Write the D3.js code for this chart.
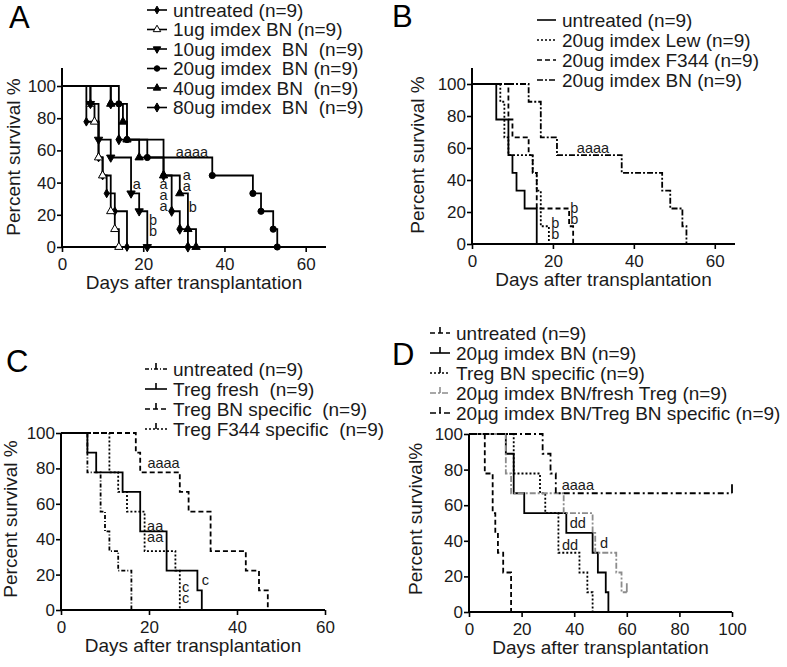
<!DOCTYPE html>
<html>
<head>
<meta charset="utf-8">
<script src="https://d3js.org/d3.v7.min.js"></script>
<style>
body { margin: 0; background: #fff; }
svg { font-family: "Liberation Sans", Arial, sans-serif; }
</style>
</head>
<body>
<div id="chart"></div>
<script>
// Ticks
var ticksY = [0, 20, 40, 60, 80, 100];
var ticksX60 = [0, 20, 40, 60];
var ticksX100 = [0, 20, 40, 60, 80, 100];

// Panel A: [day, % survival after the death]
var aUntreated = [[6, 77.8], [9, 55.6], [10, 44.4], [11, 33.3], [13, 22.2], [16, 0]];
var a1ug = [[7, 88.9], [8, 77.8], [9, 55.6], [10, 44.4], [12, 22.2], [13, 11.1], [14, 0]];
var a10ug = [[7, 88.9], [9, 66.7], [12, 55.6], [17, 33.3], [19, 22.2], [21, 0]];
var a20ug = [[14, 88.9], [16, 66.7], [21, 55.6], [37, 44.4], [47, 33.3], [49, 22.2], [52, 11.1], [53, 0]];
var a40ug = [[12, 88.9], [15, 77.8], [16, 66.7], [19, 55.6], [25, 44.4], [29, 33.3], [31, 11.1], [33, 0]];
var a80ug = [[12, 88.9], [14, 66.7], [25, 44.4], [27, 22.2], [29, 11.1], [31, 0]];
var aNames = ["untreated (n=9)", "1ug imdex BN (n=9)", "10ug imdex  BN  (n=9)",
  "20ug imdex  BN (n=9)", "40ug imdex BN  (n=9)", "80ug imdex  BN  (n=9)"];
// significance letters: [lines, day, % of the top line]
var aLabels = [[["aaaa"], 32, 59], [["a"], 18.4, 39], [["a", "a", "a"], 25, 39],
  [["a", "a"], 30.7, 44.6], [["b"], 32.2, 24.7], [["b", "b"], 22.4, 16.6]];

// Panel B
var bUntreated = [[6, 77.8], [9, 55.6], [10, 44.4], [11, 33.3], [13, 22.2], [16, 0]];
var bLew = [[7, 88.9], [8, 66.7], [9, 55.6], [15, 44.4], [16, 33.3], [17, 11.1], [19, 0]];
var bF344 = [[9, 77.8], [10, 66.7], [14, 55.6], [15, 44.4], [16, 22.2], [24, 11.1], [25, 0]];
var bBN = [[14, 88.9], [17, 66.7], [21, 55.6], [37, 44.4], [47, 33.3], [49, 22.2], [52, 11.1], [53, 0]];
var bNames = ["untreated (n=9)", "20ug imdex Lew (n=9)", "20ug imdex F344 (n=9)", "20ug imdex BN (n=9)"];
var bLabels = [[["aaaa"], 29.9, 60], [["b", "b"], 25.3, 22.5], [["b", "b"], 20.6, 13]];

// Panel C
var cUntreated = [[6, 77.8], [9, 55.6], [10, 44.4], [11, 33.3], [13, 22.2], [16, 0]];
var cFresh = [[6, 88.9], [8, 77.8], [14, 66.7], [18, 44.4], [24, 22.2], [31, 11.1], [32, 0]];
var cBN = [[17, 88.9], [18, 77.8], [27, 66.7], [29, 55.6], [34, 33.3], [42, 22.2], [45, 11.1], [47, 0]];
var cF344 = [[11, 77.8], [13, 66.7], [15, 55.6], [19, 33.3], [26, 22.2], [27, 0]];
var cNames = ["untreated (n=9)", "Treg fresh  (n=9)", "Treg BN specific  (n=9)", "Treg F344 specific  (n=9)"];
var cLabels = [[["aaaa"], 23.3, 83], [["aa", "aa"], 21.4, 47.5], [["c"], 32.8, 17], [["c", "c"], 28.3, 13]];

// Panel D
var dUntreated = [[6, 77.8], [9, 55.6], [10, 44.4], [11, 33.3], [13, 22.2], [16, 0]];
var dImdex = [[14, 88.9], [17, 66.7], [21, 55.6], [37, 44.4], [47, 33.3], [49, 22.2], [52, 11.1], [53, 0]];
var dTregBN = [[17, 77.8], [27, 66.7], [29, 55.6], [34, 33.3], [42, 22.2], [45, 11.1], [47, 0]];
var dImdexFresh = [[14, 77.8], [16, 66.7], [36, 55.6], [47, 44.4], [48, 33.3], [56, 22.2], [58, 11.1]];
var dImdexTregBN = [[28, 88.9], [31, 77.8], [33, 66.7]];
var dImdexFreshEnd = 60;
var dImdexTregBNEnd = 100;
var dNames = ["untreated (n=9)", "20\u00b5g imdex BN (n=9)", "Treg BN specific (n=9)",
  "20\u00b5g imdex BN/fresh Treg (n=9)", "20\u00b5g imdex BN/Treg BN specific (n=9)"];
var dLabels = [[["aaaa"], 41.4, 71.4], [["dd"], 41.4, 50], [["dd"], 38.4, 37.6], [["d"], 51.3, 38.7]];

var svg = d3.select("#chart").append("svg")
  .attr("width", 787)
  .attr("height", 667);

// Turn a list of deaths into step points
function stepPoints(events, end) {
  var pts = [[0, 100]];
  var prev = 100;
  events.forEach(function(e) {
    pts.push([e[0], prev]);
    pts.push([e[0], e[1]]);
    prev = e[1];
  });
  if (end != null) pts.push([end, prev]);
  return pts;
}

function drawPanel(p) {
  var x = d3.scaleLinear().domain([0, p.xMax]).range([p.left, p.right]);
  var y = d3.scaleLinear().domain([0, 100]).range([p.bottom, p.top]);
  var g = svg.append("g");

  // axes
  var ax = g.append("g")
    .attr("transform", "translate(0," + p.bottom + ")")
    .call(d3.axisBottom(x).tickValues(p.ticksX).tickSize(5).tickSizeOuter(0).tickPadding(6));
  var ay = g.append("g")
    .attr("transform", "translate(" + p.left + ",0)")
    .call(d3.axisLeft(y).tickValues(ticksY).tickSize(5).tickSizeOuter(0).tickPadding(1));
  [ax, ay].forEach(function(a) {
    a.select(".domain").remove();
    a.selectAll("line").attr("stroke", "#000").attr("stroke-width", 1.6);
    a.selectAll("text").attr("font-size", 17).attr("fill", "#1a1a1a")
      .attr("font-family", "'Liberation Sans', Arial, sans-serif");
  });
  g.append("line")
    .attr("x1", p.left).attr("x2", p.left)
    .attr("y1", p.axisTop).attr("y2", p.bottom + 1)
    .attr("stroke", "#000").attr("stroke-width", 2);
  g.append("line")
    .attr("x1", p.left - 1).attr("x2", p.right)
    .attr("y1", p.bottom).attr("y2", p.bottom)
    .attr("stroke", "#000").attr("stroke-width", 2);

  // titles
  g.append("text")
    .attr("x", (p.left + p.right) / 2)
    .attr("y", p.bottom + 42)
    .attr("text-anchor", "middle")
    .attr("font-size", 19).attr("fill", "#1a1a1a")
    .text("Days after transplantation");
  g.append("text")
    .attr("transform", "translate(" + p.yTitleX + "," + p.yTitleY + ") rotate(-90)")
    .attr("text-anchor", "middle")
    .attr("dy", "0.35em")
    .attr("font-size", 19).attr("fill", "#1a1a1a")
    .text(p.yTitle);
  g.append("text")
    .attr("x", p.letterX).attr("y", p.letterY)
    .attr("font-size", 31).attr("fill", "#000")
    .text(p.letter);

  // curves
  var line = d3.line().x(function(d) { return x(d[0]); }).y(function(d) { return y(d[1]); });
  p.series.forEach(function(s) {
    g.append("path")
      .attr("d", line(stepPoints(s.data, s.end)))
      .attr("fill", "none")
      .attr("stroke", s.color || "#000")
      .attr("stroke-width", 1.8)
      .attr("stroke-dasharray", s.dash || null);
    if (s.symbol) {
      g.selectAll(null)
        .data(s.data)
        .enter()
        .append("path")
        .attr("d", d3.symbol().type(s.symbol).size(s.symSize || 28))
        .attr("transform", function(d) { return "translate(" + x(d[0]) + "," + y(d[1]) + ")" + (s.rot ? " rotate(180)" : ""); })
        .attr("fill", s.open ? "#fff" : "#000")
        .attr("stroke", "#000")
        .attr("stroke-width", 1);
    }
    if (s.end != null) {
      var last = s.data[s.data.length - 1][1];
      g.append("line")
        .attr("x1", x(s.end)).attr("x2", x(s.end))
        .attr("y1", y(last)).attr("y2", y(last) - 9)
        .attr("stroke", s.color || "#000").attr("stroke-width", 1.8);
    }
  });

  // significance letters (stacked lines in one text)
  var lab = g.selectAll(null)
    .data(p.labels)
    .enter()
    .append("text")
    .attr("y", function(d) { return y(d[2]); })
    .attr("text-anchor", "middle")
    .attr("font-size", 14.5).attr("fill", "#1a1a1a");
  lab.selectAll("tspan")
    .data(function(d) { return d[0].map(function(t, i) { return { t: t, i: i, day: d[1] }; }); })
    .enter()
    .append("tspan")
    .attr("x", function(d) { return x(d.day); })
    .attr("dy", function(d) { return d.i === 0 ? "0.35em" : 11; })
    .text(function(d) { return d.t; });

  // legend
  p.series.forEach(function(s, i) {
    var ly = p.legY + i * p.legStep;
    g.append("line")
      .attr("x1", p.legX0).attr("x2", p.legX1)
      .attr("y1", ly).attr("y2", ly)
      .attr("stroke", s.color || "#000")
      .attr("stroke-width", 1.6)
      .attr("stroke-dasharray", s.dash || null);
    if (s.symbol) {
      g.append("path")
        .attr("d", d3.symbol().type(s.symbol).size((s.symSize || 28) * 0.8))
        .attr("transform", "translate(" + (p.legX0 + p.legX1) / 2 + "," + ly + ")" + (s.rot ? " rotate(180)" : ""))
        .attr("fill", s.open ? "#fff" : "#000")
        .attr("stroke", "#000").attr("stroke-width", 1);
    } else if (p.legTick) {
      g.append("line")
        .attr("x1", (p.legX0 + p.legX1) / 2).attr("x2", (p.legX0 + p.legX1) / 2)
        .attr("y1", ly).attr("y2", ly - 6)
        .attr("stroke", s.color || "#000").attr("stroke-width", 1.6);
    }
    g.append("text")
      .attr("x", p.legX1 + 6)
      .attr("y", ly)
      .attr("dy", "0.35em")
      .attr("font-size", 19).attr("fill", "#1a1a1a")
      .attr("xml:space", "preserve")
      .style("white-space", "pre")
      .text(p.names[i]);
  });
}

drawPanel({
  letter: "A", letterX: 9, letterY: 28,
  left: 62, right: 326, xMax: 65, top: 86, bottom: 247, axisTop: 68,
  ticksX: ticksX60, yTitle: "Percent survival %", yTitleX: 13, yTitleY: 157,
  legX0: 147, legX1: 167, legY: 10, legStep: 19.5, names: aNames, labels: aLabels,
  series: [
    { data: aUntreated, symbol: d3.symbolDiamond, symSize: 22 },
    { data: a1ug, symbol: d3.symbolTriangle, open: true, symSize: 30 },
    { data: a10ug, symbol: d3.symbolTriangle, rot: true, symSize: 30 },
    { data: a20ug, symbol: d3.symbolCircle, symSize: 30 },
    { data: a40ug, symbol: d3.symbolTriangle, symSize: 30 },
    { data: a80ug, symbol: d3.symbolDiamond, symSize: 30 }
  ]
});

drawPanel({
  letter: "B", letterX: 392, letterY: 27,
  left: 472, right: 735, xMax: 65, top: 84, bottom: 244, axisTop: 68,
  ticksX: ticksX60, yTitle: "Percent survival %", yTitleX: 417, yTitleY: 155,
  legX0: 537, legX1: 556, legY: 20, legStep: 20, names: bNames, labels: bLabels,
  series: [
    { data: bUntreated },
    { data: bLew, dash: "2,2" },
    { data: bF344, dash: "5,3" },
    { data: bBN, dash: "6,2,2,2" }
  ]
});

drawPanel({
  letter: "C", letterX: 6, letterY: 372,
  left: 61, right: 325, xMax: 60, top: 433, bottom: 610, axisTop: 433,
  ticksX: ticksX60, yTitle: "Percent survival %", yTitleX: 10, yTitleY: 519,
  legX0: 145, legX1: 167, legY: 369, legStep: 20, names: cNames, labels: cLabels, legTick: true,
  series: [
    { data: cUntreated, dash: "4,2,1,2" },
    { data: cFresh },
    { data: cBN, dash: "5,3" },
    { data: cF344, dash: "2,2" }
  ]
});

drawPanel({
  letter: "D", letterX: 392, letterY: 365,
  left: 469, right: 732, xMax: 100, top: 434, bottom: 612, axisTop: 434,
  ticksX: ticksX100, yTitle: "Percent survival%", yTitleX: 415, yTitleY: 519,
  legX0: 430, legX1: 450, legY: 333, legStep: 20, names: dNames, labels: dLabels, legTick: true,
  series: [
    { data: dUntreated, dash: "5,3" },
    { data: dImdex },
    { data: dTregBN, dash: "2,2" },
    { data: dImdexFresh, end: dImdexFreshEnd, dash: "6,2,2,2", color: "#8c8c8c" },
    { data: dImdexTregBN, end: dImdexTregBNEnd, dash: "6,3,2,3" }
  ]
});
</script>
</body>
</html>
